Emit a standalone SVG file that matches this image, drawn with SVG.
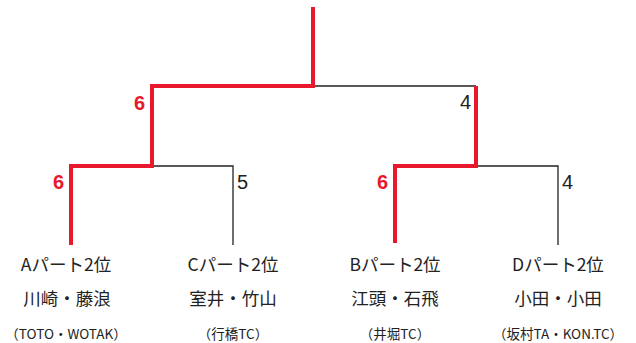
<svg xmlns="http://www.w3.org/2000/svg" width="636" height="343" viewBox="0 0 636 343">
<style>
.blk{fill:none;stroke:#222;stroke-width:1.3}
.red{fill:none;stroke:#e8192c;stroke-width:4;stroke-linejoin:miter;stroke-linecap:butt}
.sc{font-family:"Liberation Sans",Arial,sans-serif;font-size:20px}
.sr{fill:#e8192c;font-weight:bold}
.sb{fill:#222}
.t{font-family:"Noto Sans CJK JP","Liberation Sans",sans-serif;fill:#222;text-anchor:middle}
.t1{font-size:17.5px}
.t2{font-size:17.5px}
.t3{font-size:13.5px}
</style>
<rect width="636" height="343" fill="#fff"/>
<g id="connectors">
<polyline class="blk" points="313,86 476,86"/>
<polyline class="blk" points="152,166 233,166 233,245"/>
<polyline class="blk" points="476,166 558,166 558,245"/>
<polyline class="red" points="313,7 313,86 152,86 152,166 71,166 71,245"/>
<polyline class="red" points="476,86 476,166 395,166 395,243"/>
</g>
<g id="scores">
<text class="sc sr" x="134" y="110">6</text>
<text class="sc sr" x="53" y="189">6</text>
<text class="sc sb" x="237" y="189">5</text>
<text class="sc sb" x="460" y="109">4</text>
<text class="sc sr" x="377" y="189">6</text>
<text class="sc sb" x="562" y="189">4</text>
</g>
<g id="nodeA">
<text class="t t1" x="66" y="271">Aパート2位</text>
<text class="t t2" x="67" y="305">川崎・藤浪</text>
<text class="t t3" x="66" y="339">（TOTO・WOTAK）</text>
</g>
<g id="nodeC">
<text class="t t1" x="233" y="271">Cパート2位</text>
<text class="t t2" x="233" y="305">室井・竹山</text>
<text class="t t3" x="233" y="339">（行橋TC）</text>
</g>
<g id="nodeB">
<text class="t t1" x="395" y="271">Bパート2位</text>
<text class="t t2" x="395" y="305">江頭・石飛</text>
<text class="t t3" x="395" y="339">（井堀TC）</text>
</g>
<g id="nodeD">
<text class="t t1" x="558" y="271">Dパート2位</text>
<text class="t t2" x="558" y="305">小田・小田</text>
<text class="t t3" x="558" y="339">（坂村TA・KON.TC）</text>
</g>
</svg>
